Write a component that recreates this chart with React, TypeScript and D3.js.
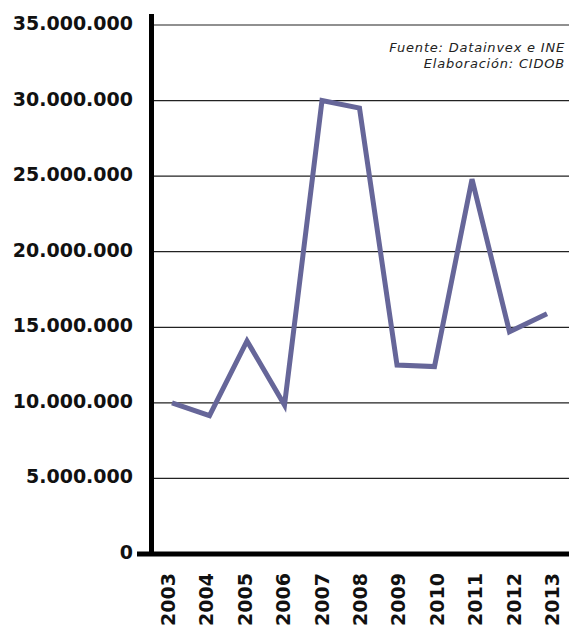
import React from "react";
import * as d3 from "d3";

const years = ["2003","2004","2005","2006","2007","2008","2009","2010","2011","2012","2013"];
const values = [10.0, 9.15, 14.1, 9.85, 30.0, 29.5, 12.5, 12.4, 24.8, 14.7, 15.9].map(v => v * 1e6);
const yTicks = [0, 5e6, 10e6, 15e6, 20e6, 25e6, 30e6, 35e6];
const sourceLines = ["Fuente: Datainvex e INE", "Elaboración: CIDOB"];

const W = 569, H = 626;

export default function App() {
  const y = d3.scaleLinear().domain([0, 35e6]).range([554, 25]);
  const x = d3.scalePoint<string>().domain(years).range([172, 547]);
  const xl = d3.scalePoint<string>().domain(years).range([168, 552]);
  const fmt = (v: number) => v === 0 ? "0" : d3.format(",")(v).replace(/,/g, ".");
  const line = d3.line<number>().x((_, i) => x(years[i])!).y(d => y(d));
  return (
    <svg width={W} height={H} style={{ position: "absolute", left: 0, top: 0, background: "#fff" }}>
      {yTicks.filter(t => t > 0).map(t => (
        <line key={t} x1={152} x2={W} y1={y(t)} y2={y(t)} stroke="#222" strokeWidth={1.2} />
      ))}
      {yTicks.map(t => (
        <text key={"l" + t} x={133} y={y(t) + 5} textAnchor="end" fontFamily="DejaVu Sans" fontWeight="bold" fontSize={19} fill="#111">{fmt(t)}</text>
      ))}
      <line x1={151.5} x2={151.5} y1={14} y2={556} stroke="#000" strokeWidth={5} />
      <line x1={137} x2={W} y1={554} y2={554} stroke="#000" strokeWidth={5} />
      <path d={line(values) || ""} fill="none" stroke="#666699" strokeWidth={5} strokeLinejoin="miter" />
      {years.map(yr => (
        <text key={yr} transform={`translate(${xl(yr)! + 7},573) rotate(-90)`} textAnchor="end" fontFamily="DejaVu Sans" fontWeight="bold" fontSize={19} fill="#111">{yr}</text>
      ))}
      {sourceLines.map((s, i) => (
        <text key={s} x={565} y={52 + i * 16} textAnchor="end" fontFamily="DejaVu Sans" fontStyle="italic" fontSize={13} letterSpacing={0.8} fill="#222">{s}</text>
      ))}
    </svg>
  );
}
